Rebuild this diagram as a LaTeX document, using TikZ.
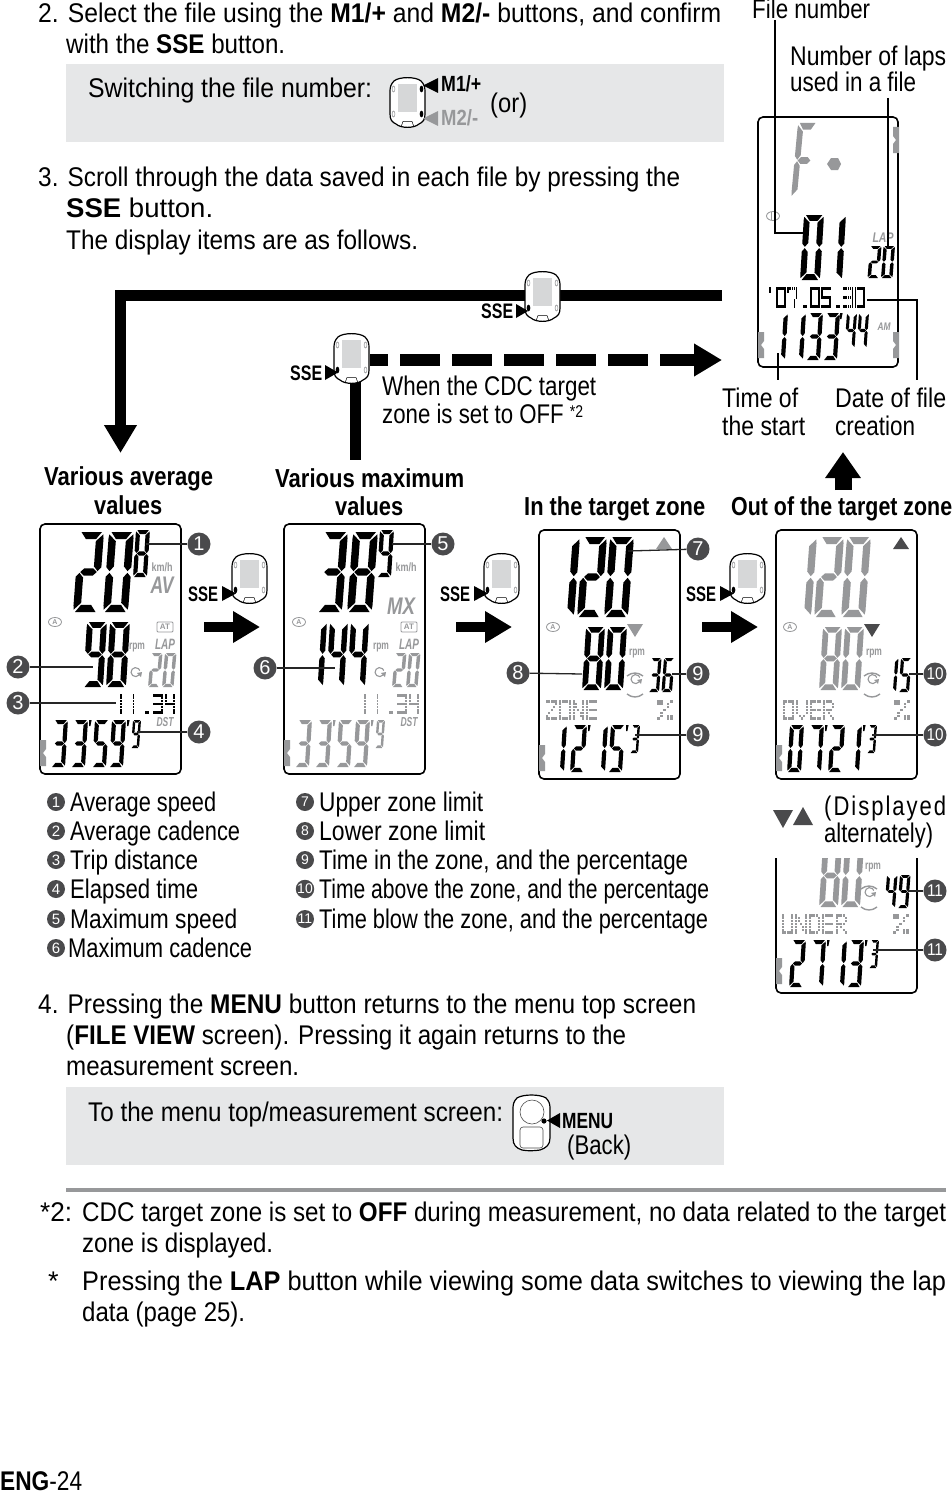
\documentclass[tikz,border=0pt]{standalone}
\usepackage{graphicx}
\usepackage{fontspec}
\setmainfont{Liberation Sans}
\usetikzlibrary{arrows.meta,shapes.geometric}
\definecolor{boxg}{HTML}{E6E7E8}
\definecolor{lcdg}{HTML}{97989A}
\definecolor{badgeg}{HTML}{4A4A4C}
\definecolor{scrg}{HTML}{D6D7D8}
\newsavebox\fitbox
\newcommand\fit[2]{\sbox\fitbox{#2}\pgfmathsetmacro\fitr{#1/\wd\fitbox}\scalebox{\fitr}[1]{\usebox\fitbox}}
% seven segment parts
\def\sgA{\fill (.10,0)--(.92,0)--(.70,.09)--(.30,.09)--cycle;}
\def\sgB{\fill (.98,.03)--(.70,.115)--(.70,.43)--(.86,.49)--(1,.44)--(1,.08)--cycle;}
\def\sgC{\fill (.98,.97)--(.70,.885)--(.70,.57)--(.86,.51)--(1,.56)--(1,.92)--cycle;}
\def\sgD{\fill (.08,1)--(.90,1)--(.70,.91)--(.30,.91)--cycle;}
\def\sgE{\fill (.02,.97)--(.30,.885)--(.30,.57)--(.14,.51)--(0,.56)--(0,.92)--cycle;}
\def\sgF{\fill (.02,.03)--(.30,.115)--(.30,.43)--(.14,.49)--(0,.44)--(0,.08)--cycle;}
\def\sgG{\fill (.17,.5)--(.32,.455)--(.68,.455)--(.83,.5)--(.68,.545)--(.32,.545)--cycle;}
\newcommand\dgt[1]{\ifcase#1 \sgA\sgB\sgC\sgD\sgE\sgF\or \sgB\sgC\or \sgA\sgB\sgG\sgE\sgD\or \sgA\sgB\sgG\sgC\sgD\or \sgF\sgG\sgB\sgC\or \sgA\sgF\sgG\sgC\sgD\or \sgA\sgF\sgG\sgE\sgC\sgD\or \sgA\sgB\sgC\or \sgA\sgB\sgC\sgD\sgE\sgF\sgG\or \sgA\sgB\sgF\sgG\sgC\sgD\or \sgA\sgF\sgG\sgE\fi}
% x y w h slant pitch colour digits
\newcommand\lcd[8]{\foreach \dd [count=\di from 0] in {#8}{\begin{scope}[shift={({#1+\di*#6},{#2})},x={(#3pt,0)},y={(-#5pt,-#4pt)},fill=#7]\dgt{\dd}\end{scope}}}
\newcommand\apo[3]{\fill[#3] (#1,#2) -- ++(2.6,0) -- ++(-1.2,6) -- ++(-1.4,0) -- cycle;}
% time row: x y colour a b c d e
\newcommand\tm[8]{\lcd{#1}{#2}{14}{47}{3}{20}{#3}{#4,#5}\apo{#1+35}{#2}{#3}\lcd{#1+41}{#2}{14}{47}{3}{17}{#3}{#6,#7}\apo{#1+73}{#2}{#3}\lcd{#1+79}{#2}{8}{28}{2}{10}{#3}{#8}}
% dot matrix
\def\dmp#1#2#3{\ifnum#3=1 \fill (#1,#2) rectangle ++(.9,.88);\fi}
\def\dmrow#1#2#3#4#5#6{\dmp{0}{#1}{#2}\dmp{1}{#1}{#3}\dmp{2}{#1}{#4}\dmp{3}{#1}{#5}\dmp{4}{#1}{#6}}
\def\dmg#1#2#3#4#5#6#7{\dmrow{0}#1\dmrow{1}#2\dmrow{2}#3\dmrow{3}#4\dmrow{4}#5\dmrow{5}#6\dmrow{6}#7}
\def\gkzero{\dmg{11111}{10001}{10001}{10001}{10001}{10001}{11111}}
\def\gkone{\dmg{00100}{00100}{00100}{00100}{00100}{00100}{00100}}
\def\gkthree{\dmg{11111}{00001}{00001}{11111}{00001}{00001}{11111}}
\def\gkfour{\dmg{10001}{10001}{10001}{11111}{00001}{00001}{00001}}
\def\gkfive{\dmg{11111}{10000}{10000}{11111}{00001}{00001}{11111}}
\def\gkseven{\dmg{11111}{10001}{00001}{00001}{00010}{00010}{00010}}
\def\gkdot{\dmg{00000}{00000}{00000}{00000}{00000}{00000}{00110}}
\def\gkapo{\dmg{00100}{00100}{00000}{00000}{00000}{00000}{00000}}
\def\gkpct{\dmg{11001}{11010}{00010}{00100}{01000}{01011}{10011}}
\def\gkZ{\dmg{11111}{00001}{00010}{00100}{01000}{10000}{11111}}
\def\gkO{\dmg{11111}{10001}{10001}{10001}{10001}{10001}{11111}}
\def\gkN{\dmg{10001}{11001}{11001}{10101}{10011}{10011}{10001}}
\def\gkE{\dmg{11111}{10000}{10000}{11111}{10000}{10000}{11111}}
\def\gkV{\dmg{10001}{10001}{10001}{10001}{10001}{01010}{00100}}
\def\gkR{\dmg{11110}{10001}{10001}{11110}{10100}{10010}{10001}}
\def\gkU{\dmg{10001}{10001}{10001}{10001}{10001}{10001}{11111}}
\def\gkD{\dmg{11110}{10001}{10001}{10001}{10001}{10001}{11110}}
\newcommand\dmz[7]{\foreach \chr [count=\ci from 0] in {#7}{\begin{scope}[shift={({#1+\ci*#3},{#2})},x={(#4pt,0)},y={(0,-#5pt)},fill=#6]\chr\end{scope}}}
% gray notch: x y dir(1 left edge,-1 right edge)
\newcommand\notch[3]{\fill[lcdg] (#1,#2) -- ++({#3*6},0) -- ++(0,9) -- ++({-#3*3},4) -- ++({#3*3},4) -- ++(0,9) -- ++({-#3*6},0) -- cycle;}
% device icon
\newcommand\cyc[3]{\begin{scope}[shift={(#1,#2)}]
\draw[fill=white,line width=1.2] (4,5) .. controls (9,0.5) and (26,0.5) .. (31,5) .. controls (34,8) and (35,11) .. (35,15) -- (35,38) .. controls (35,44) and (33,46) .. (29,48) .. controls (24,52.5) and (11,52.5) .. (6,48) .. controls (2,46) and (0,44) .. (0,38) -- (0,15) .. controls (0,11) and (1,8) .. (4,5) -- cycle;
\fill[scrg] (8,8) rectangle (27,36);
\foreach \bx/\by in {3.5/13,31.5/13,3.5/38,31.5/38}{\draw[lcdg,line width=.6] (\bx,\by) ellipse (1.4 and 3);}
\draw[line width=.5] (11,51) -- (13,45.5) -- (22,45.5) -- (24,51);
\ifnum#3=0 \fill (3.5,38) ellipse (1.8 and 3.2);\else \fill (31.5,13) ellipse (1.8 and 3.2); \fill (31.5,38) ellipse (1.8 and 3.2);\fi
\end{scope}}
\newcommand\rotsym[3]{\draw[#3,line width=1.1] (#1+4,#2-3) arc (40:340:4.5);\fill[#3] (#1+2,#2-5) -- ++(5,-1) -- ++(-1,5) -- cycle;}
\newcommand\rotarcs[3]{\draw[#3,line width=1.4] (#1-8,#2-9) .. controls (#1-3,#2-13) and (#1+3,#2-13) .. (#1+8,#2-9);\draw[#3,line width=1.4] (#1-8,#2+9) .. controls (#1-3,#2+13) and (#1+3,#2+13) .. (#1+8,#2+9);}
\newcommand\atsym[3]{\draw[#3,line width=.8] (#1,#2) ellipse (6.5 and 4.5);}
\tikzset{
 txt/.style={inner sep=0pt,anchor=base west,font=\fontsize{27}{31}\selectfont},
 small/.style={inner sep=0pt,text=lcdg,font=\bfseries\fontsize{12}{12}\selectfont},
 lcdbox/.style={draw,line width=1.6,rounded corners=5pt,fill=white},
 badge/.style={circle,fill=badgeg,text=white,inner sep=0pt,minimum size=23pt,font=\fontsize{20}{20}\selectfont},
 lbadge/.style={circle,fill=badgeg,text=white,inner sep=0pt,minimum size=18pt,font=\fontsize{15}{15}\selectfont},
 leader/.style={line width=1.3pt,draw=black!85},
 heavy/.style={line width=11pt,-{Triangle[length=28pt,width=31pt]}},
 thinl/.style={line width=1.5pt},
}
\begin{document}
\begin{tikzpicture}[x=1pt,y=-1pt]
\useasboundingbox (0,0) rectangle (952,1493);
\fill[white] (0,0) rectangle (952,1493);
% gray boxes
\fill[boxg] (66,64) rectangle (724,142);
\fill[boxg] (66,1087) rectangle (724,1165);
% main text
\node[txt] (l1) at (38,23) {\fit{683}{2. Select the file using the \textbf{M1/+} and \textbf{M2/-} buttons, and confirm}};
\node[txt] (l2) at (66,54) {\fit{219}{with the \textbf{SSE} button.}};
\node[txt] (l3) at (88,98) {\fit{284}{Switching the file number:}};
\node[txt] (l4) at (490,113) {\fit{37}{(or)}};
\node[txt] (l5) at (38,186) {\fit{642}{3. Scroll through the data saved in each file by pressing the}};
\node[txt] (l6) at (66,217) {\fit{147}{\textbf{SSE} button.}};
\node[txt] (l7) at (66,249) {\fit{352}{The display items are as follows.}};
% M icon
\cyc{390}{76}{1}
\fill (438,78) -- (438,93) -- (423,85.5) -- cycle;
\fill[lcdg] (438,111) -- (438,126) -- (423,118.5) -- cycle;
\node[txt,font=\bfseries\fontsize{22}{22}\selectfont] (m1) at (441,92) {\fit{40}{M1/+}};
\node[txt,text=lcdg,font=\bfseries\fontsize{22}{22}\selectfont] (m2) at (441,125) {\fit{37}{M2/-}};
% heavy lines
\coordinate (h1) at (722,295);
\coordinate (h2) at (120.5,295);
\coordinate (h3) at (120.5,453);
\draw[line width=11pt] (h1) -- (h2);
\draw[heavy] (120.5,290) -- (h3);
\coordinate (d1) at (370,360);
\coordinate (d2) at (722,360);
\coordinate (d3) at (355,460);
\coordinate (d4) at (355,380);
\draw[line width=11pt] (d4) -- (d3);
\draw[line width=11.5pt,dash pattern=on 18pt off 12pt on 40pt off 12pt on 40pt off 12pt on 40pt off 12pt on 40pt off 12pt on 40pt off 12pt on 40pt off 12pt,-{Triangle[length=28pt,width=31pt]}] (d1) -- (d2);
\cyc{525}{270}{0}
\fill (516,304) -- (516,318) -- (528,311) -- cycle;
\node[txt,font=\bfseries\fontsize{21}{21}\selectfont] (s1) at (481,318) {\fit{32}{SSE}};
\cyc{334}{332}{0}
\fill (325,365) -- (325,380) -- (338,372.5) -- cycle;
\node[txt,font=\bfseries\fontsize{21}{21}\selectfont] (s2) at (290,380) {\fit{32}{SSE}};
\node[txt] (w1) at (382,395) {\fit{214}{When the CDC target}};
\node[txt] (w2) at (382,423) {\fit{201}{zone is set to OFF \raisebox{6pt}{\fontsize{17}{17}\selectfont *2}}};
% top right device
\draw[lcdbox] (758,117) rectangle (898,367);
\notch{899}{127}{-1}
\notch{758}{332}{1}
\notch{899}{332}{-1}
\lcd{798}{123}{19}{75}{7}{0}{lcdg}{10}
\fill[lcdg] (827,164) -- (831,158) -- (838,158) -- (841,164) -- (838,170) -- (831,170) -- cycle;
\atsym{773}{216}{lcdg}
\draw[white,line width=1.5] (775,211) -- (775,221);
\draw[lcdg,line width=1] (771,212) -- (771,220);
\lcd{804}{215}{20}{65}{4}{22}{black}{0,1}
\node[small,font=\bfseries\itshape\fontsize{14}{14}\selectfont] (flap) at (883,238) {\fit{21}{LAP}};
\lcd{870}{246}{11.5}{32}{2.5}{13.5}{black}{2,0}
\dmz{765}{287}{11.2}{2.05}{3}{black}{\gkapo,\gkzero,\gkseven,\gkdot,\gkzero,\gkfive,\gkdot,\gkthree,\gkzero}
\lcd{774}{313}{14}{47}{3}{18}{black}{1,1}
\fill (802,345) circle (1.2); \fill (801,353) circle (1.2);
\lcd{809}{313}{14}{47}{3}{17}{black}{3,3}
\apo{840}{313}{black}
\lcd{847}{313}{10}{35}{2.5}{12}{black}{4,4}
\node[small,font=\bfseries\itshape\fontsize{11}{11}\selectfont] (fam) at (884,327) {\fit{13}{AM}};
% top right labels
\node[txt] (fn) at (752,19) {\fit{118}{File number}};
\node[txt] (nl) at (790,66) {\fit{156}{Number of laps}};
\node[txt] (nu) at (790,92) {\fit{126}{used in a file}};
\node[txt] (ts) at (722,407) {\fit{76}{Time of}};
\node[txt] (tt) at (722,435) {\fit{83}{the start}};
\node[txt] (df) at (835,407) {\fit{111}{Date of file}};
\node[txt] (dc) at (835,435) {\fit{80}{creation}};
\coordinate (p1a) at (775,20); \coordinate (p1b) at (775,233); \coordinate (p1c) at (805,233);
\draw[thinl] (p1a) -- (p1b) -- (p1c);
\coordinate (p2a) at (888,98); \coordinate (p2b) at (888,246);
\draw[thinl] (p2a) -- (p2b);
\coordinate (p3a) at (778,353); \coordinate (p3b) at (778,380);
\draw[thinl] (p3a) -- (p3b);
\coordinate (p4a) at (867,300); \coordinate (p4b) at (917,300); \coordinate (p4c) at (917,380);
\draw[thinl] (p4a) -- (p4b) -- (p4c);
\coordinate (u1) at (843,490); \coordinate (u2) at (843,452);
\draw[line width=17pt,-{Triangle[length=26pt,width=34pt]}] (u1) -- (u2);
% headings
\node[txt,font=\bfseries\fontsize{26}{26}\selectfont] (h1t) at (44,485) {\fit{169}{Various average}};
\node[txt,font=\bfseries\fontsize{26}{26}\selectfont] (h1u) at (94,514) {\fit{68}{values}};
\node[txt,font=\bfseries\fontsize{26}{26}\selectfont] (h2t) at (275,487) {\fit{189}{Various maximum}};
\node[txt,font=\bfseries\fontsize{26}{26}\selectfont] (h2u) at (335,515) {\fit{68}{values}};
\node[txt,font=\bfseries\fontsize{26}{26}\selectfont] (h3t) at (524,515) {\fit{181}{In the target zone}};
\node[txt,font=\bfseries\fontsize{26}{26}\selectfont] (h4t) at (731,515) {\fit{221}{Out of the target zone}};
% D1
\draw[lcdbox] (40,524) rectangle (181,774);
\notch{40}{740}{1}
\lcd{79}{532}{25}{80}{6}{30}{black}{2,0}
\lcd{136}{530}{14}{47}{3}{0}{black}{8}
\node[small] (kmh1) at (162,567) {\fit{21}{km/h}};
\node[small,font=\bfseries\itshape\fontsize{24}{24}\selectfont] (av) at (162,585) {\fit{23}{AV}};
\atsym{55}{622}{lcdg}\node[small,font=\bfseries\fontsize{7}{7}\selectfont] (a1) at (55,622) {A};
\node[small,draw=lcdg,line width=.8,rounded corners=1pt,minimum width=16pt,minimum height=10pt,font=\bfseries\fontsize{8}{8}\selectfont,text=lcdg] (at1) at (165,627) {AT};
\lcd{87}{622}{20}{65}{4}{23}{black}{9,8}
\node[small] (rpm1) at (137,648) {\fit{16}{rpm}};
\node[small,font=\bfseries\itshape\fontsize{15}{15}\selectfont] (lap1) at (165,644) {\fit{20}{LAP}};
\lcd{151}{653}{11.5}{34}{3}{14}{lcdg}{2,0}
\rotsym{135}{678}{lcdg}
\dmz{116}{694}{12.2}{2.15}{2.9}{black}{\gkone,\gkone,\gkdot,\gkthree,\gkfour}
\node[small,font=\bfseries\itshape\fontsize{13}{13}\selectfont] (dst1) at (165,722) {\fit{17}{DST}};
\tm{54}{720}{black}{3}{3}{5}{9}{9}
\node[badge] (b1) at (199,544) {1};
\node[badge] (b2) at (18,667) {2};
\node[badge] (b3) at (18,703) {3};
\node[badge] (b4) at (199,732) {4};
\coordinate (c1) at (146,544); \coordinate (c2) at (93,667); \coordinate (c3) at (116,703); \coordinate (c4) at (137,732);
\draw[leader] (b1) -- (c1); \draw[leader] (b2) -- (c2); \draw[leader] (b3) -- (c3); \draw[leader] (b4) -- (c4);
% D2
\draw[lcdbox] (284,524) rectangle (425,774);
\notch{284}{740}{1}
\lcd{323}{532}{25}{80}{6}{30}{black}{3,8}
\lcd{380}{530}{14}{47}{3}{0}{black}{9}
\node[small] (kmh2) at (406,567) {\fit{21}{km/h}};
\node[small,font=\bfseries\itshape\fontsize{24}{24}\selectfont] (mx) at (401,606) {\fit{28}{MX}};
\atsym{299}{622}{lcdg}\node[small,font=\bfseries\fontsize{7}{7}\selectfont] (a2) at (299,622) {A};
\node[small,draw=lcdg,line width=.8,rounded corners=1pt,minimum width=16pt,minimum height=10pt,font=\bfseries\fontsize{8}{8}\selectfont,text=lcdg] (at2) at (409,627) {AT};
\lcd{309}{622}{18}{65}{4}{21}{black}{1,4,4}
\node[small] (rpm2) at (381,648) {\fit{16}{rpm}};
\node[small,font=\bfseries\itshape\fontsize{15}{15}\selectfont] (lap2) at (409,644) {\fit{20}{LAP}};
\lcd{395}{653}{11.5}{34}{3}{14}{lcdg}{2,0}
\rotsym{379}{678}{lcdg}
\dmz{360}{694}{12.2}{2.15}{2.9}{lcdg}{\gkone,\gkone,\gkdot,\gkthree,\gkfour}
\node[small,font=\bfseries\itshape\fontsize{13}{13}\selectfont] (dst2) at (409,722) {\fit{17}{DST}};
\tm{298}{720}{lcdg}{3}{3}{5}{9}{9}
\node[badge] (b5) at (443,544) {5};
\node[badge] (b6) at (265,668) {6};
\coordinate (c5) at (392,544); \coordinate (c6) at (335,668);
\draw[leader] (b5) -- (c5); \draw[leader] (b6) -- (c6);
% D3
\draw[lcdbox] (539,530) rectangle (680,779);
\notch{539}{745}{1}
\lcd{556}{537}{24}{80}{6}{27}{black}{1,2,0}
\fill[lcdg] (664,537) -- (672,549) -- (656,549) -- cycle;
\atsym{553}{627}{lcdg}\node[small,font=\bfseries\fontsize{7}{7}\selectfont] (a3) at (553,627) {A};
\fill[lcdg] (627,624) -- (643,624) -- (635,637) -- cycle;
\lcd{586}{627}{19}{63}{4}{22}{black}{8,0}
\node[small] (rpm3) at (637,653) {\fit{16}{rpm}};
\rotsym{635}{685}{lcdg}\rotarcs{635}{685}{lcdg}
\lcd{651}{658}{10.5}{34}{2.5}{13}{black}{3,6}
\dmz{546}{700}{13.4}{2.3}{2.9}{lcdg}{\gkZ,\gkO,\gkN,\gkE}
\dmz{657}{700}{13}{3.2}{2.9}{lcdg}{\gkpct}
\tm{553}{725}{black}{1}{2}{1}{5}{3}
\node[badge] (b7) at (698,549) {7};
\node[badge] (b8) at (518,673) {8};
\node[badge] (b9) at (698,674) {9};
\node[badge] (b9b) at (698,735) {9};
\coordinate (c7) at (628,551); \coordinate (c8) at (582,674); \coordinate (c9) at (672,674); \coordinate (c9b) at (635,735);
\draw[leader] (b7) -- (c7); \draw[leader] (b8) -- (c8); \draw[leader] (b9) -- (c9); \draw[leader] (b9b) -- (c9b);
% D4
\draw[lcdbox] (776,530) rectangle (917,779);
\notch{776}{745}{1}
\lcd{793}{537}{24}{80}{6}{27}{lcdg}{1,2,0}
\fill[badgeg] (901,537) -- (909,549) -- (893,549) -- cycle;
\atsym{790}{627}{lcdg}\node[small,font=\bfseries\fontsize{7}{7}\selectfont] (a4) at (790,627) {A};
\fill[badgeg] (864,624) -- (880,624) -- (872,637) -- cycle;
\lcd{823}{627}{19}{63}{4}{22}{lcdg}{8,0}
\node[small] (rpm4) at (874,653) {\fit{16}{rpm}};
\rotsym{872}{685}{lcdg}\rotarcs{872}{685}{lcdg}
\lcd{888}{658}{10.5}{34}{2.5}{13}{black}{1,5}
\dmz{783}{700}{13.4}{2.3}{2.9}{lcdg}{\gkO,\gkV,\gkE,\gkR}
\dmz{894}{700}{13}{3.2}{2.9}{lcdg}{\gkpct}
\tm{790}{725}{black}{0}{7}{2}{1}{3}
\node[badge,font=\fontsize{17}{17}\selectfont] (b10) at (935,674) {\fit{17}{10}};
\node[badge,font=\fontsize{17}{17}\selectfont] (b10b) at (935,735) {\fit{17}{10}};
\coordinate (c10) at (909,674); \coordinate (c10b) at (872,735);
\draw[leader] (b10) -- (c10); \draw[leader] (b10b) -- (c10b);
% alternately
\fill[badgeg] (773,810) -- (793,810) -- (783,828) -- cycle;
\fill[badgeg] (793,825) -- (813,825) -- (803,807) -- cycle;
\node[txt] (di) at (824,815) {\fit{122}{\addfontfeatures{LetterSpace=9}(Displayed}};
\node[txt] (al) at (824,842) {\fit{109}{alternately)}};
% D5
\draw[line width=1.6,rounded corners=5pt] (776,858) -- (776,993) -- (917,993) -- (917,858);
\notch{776}{958}{1}
\begin{scope}
\clip (776,858) rectangle (917,993);
\lcd{823}{844}{19}{63}{4}{22}{lcdg}{8,0}
\end{scope}
\node[small] (rpm5) at (873,867) {\fit{16}{rpm}};
\rotsym{869}{898}{lcdg}\rotarcs{869}{898}{lcdg}
\lcd{887}{875}{10.5}{33}{2.5}{13}{black}{4,9}
\dmz{782}{914}{13.4}{2.3}{2.9}{lcdg}{\gkU,\gkN,\gkD,\gkE,\gkR}
\dmz{893}{914}{13}{3.2}{2.9}{lcdg}{\gkpct}
\tm{792}{940}{black}{2}{7}{1}{3}{3}
\node[badge,font=\fontsize{17}{17}\selectfont] (b11) at (935,891) {\fit{16}{11}};
\node[badge,font=\fontsize{17}{17}\selectfont] (b11b) at (935,950) {\fit{16}{11}};
\coordinate (c11) at (908,891); \coordinate (c11b) at (873,950);
\draw[leader] (b11) -- (c11); \draw[leader] (b11b) -- (c11b);
% SSE transitions
\foreach \sx/\sn in {0/a,252/b,498/c}{
\cyc{232+\sx}{552}{0}
\fill (222+\sx,586) -- (222+\sx,601) -- (236+\sx,593.5) -- cycle;
\node[txt,font=\bfseries\fontsize{21}{21}\selectfont] (sse\sn) at (188+\sx,601) {\fit{30}{SSE}};
\coordinate (ar\sn) at (204+\sx,627);
\coordinate (ab\sn) at (260+\sx,627);
\draw[line width=10pt,-{Triangle[length=27pt,width=30pt]}] (ar\sn) -- (ab\sn);
}
% legend
\foreach \n/\yy/\tw/\s in {1/802/146/Average speed,2/831/170/Average cadence,3/860/128/Trip distance,4/889/128/Elapsed time,5/919/167/Maximum speed}{
\node[lbadge] (lb\n) at (56,\yy) {\n};
\node[txt] (lt\n) at (70,\yy+9) {\fit{\tw}{\s}};
}
\node[lbadge] (lb6) at (56,948) {6};
\node[txt] (lt6) at (68,957) {\fit{184}{Maximum cadence}};
\foreach \n/\yy/\tw/\s in {7/802/164/Upper zone limit,8/831/166/Lower zone limit,9/860/369/{Time in the zone, and the percentage},10/889/390/{Time above the zone, and the percentage},11/919/389/{Time blow the zone, and the percentage}}{
\node[lbadge,font=\fontsize{14}{14}\selectfont] (lb\n) at (305,\yy) {\n};
\node[txt] (lt\n) at (319,\yy+9) {\fit{\tw}{\s}};
}
% step 4
\node[txt] (f1) at (38,1013) {\fit{658}{4. Pressing the \textbf{MENU} button returns to the menu top screen}};
\node[txt] (f2) at (66,1044) {\fit{560}{(\textbf{FILE VIEW} screen). Pressing it again returns to the}};
\node[txt] (f3) at (66,1075) {\fit{233}{measurement screen.}};
\node[txt] (f4) at (88,1121) {\fit{415}{To the menu top/measurement screen:}};
% menu icon
\draw[fill=white,line width=1.2] (517,1098) .. controls (523,1094) and (540,1094) .. (546,1098) .. controls (549,1101) and (550,1104) .. (550,1108) -- (550,1138) .. controls (550,1145) and (546,1148) .. (540,1150) .. controls (532,1151) and (528,1151) .. (522,1150) .. controls (516,1148) and (513,1145) .. (513,1138) -- (513,1108) .. controls (513,1104) and (514,1101) .. (517,1098) -- cycle;
\draw[line width=.6,draw=black!70] (532,1112) circle (12);
\draw[line width=.6,draw=black!70,rounded corners=3pt] (520,1127) rectangle (543,1148);
\fill (544,1121) circle (2.6);
\fill (560,1113) -- (560,1128) -- (547,1120.5) -- cycle;
\node[txt,font=\bfseries\fontsize{22}{22}\selectfont] (menu) at (562,1128) {\fit{51}{MENU}};
\node[txt] (back) at (567,1154) {\fit{64}{(Back)}};
% notes
\draw[line width=3.5pt,draw=lcdg] (66,1190) -- (946,1190);
\node[txt] (n0) at (40,1221) {\fit{32}{*2:}};
\node[txt] (n1) at (82,1221) {\fit{864}{CDC target zone is set to \textbf{OFF} during measurement, no data related to the target}};
\node[txt] (n2) at (82,1252) {\fit{191}{zone is displayed.}};
\node[txt] (n3) at (48,1290) {*};
\node[txt] (n4) at (82,1290) {\fit{864}{Pressing the \textbf{LAP} button while viewing some data switches to viewing the lap}};
\node[txt] (n5) at (82,1321) {\fit{163}{data (page 25).}};
\node[txt] (eng) at (0,1490) {\fit{82}{\textbf{ENG}-24}};
\end{tikzpicture}
\end{document}
